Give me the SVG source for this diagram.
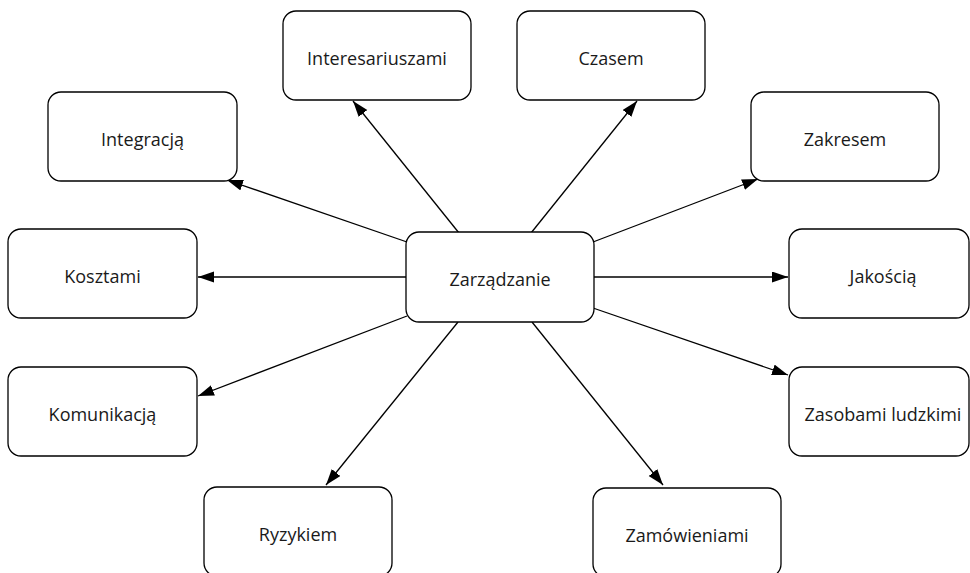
<svg xmlns="http://www.w3.org/2000/svg" width="970" height="573" viewBox="0 0 970 573">
  <style>
    .box { fill: #ffffff; stroke: #000000; stroke-width: 1.3; }
    .label { font-family: "Open Sans", "Noto Sans", "Liberation Sans", sans-serif; font-size: 18px; fill: #1a1a1a; text-anchor: middle; }
    .link { stroke: #000000; stroke-width: 1.3; fill: none; marker-end: url(#head); }
  </style>
  <defs>
    <marker id="head" markerUnits="userSpaceOnUse" markerWidth="17" markerHeight="12" refX="16" refY="5.5" orient="auto">
      <path d="M0,0 L16,5.5 L0,11 z" fill="#000000"/>
    </marker>
  </defs>
  <rect width="970" height="573" fill="#ffffff"/>

  <!-- connectors radiating from the central node -->
  <g id="connectors">
    <line class="link" x1="459" y1="233" x2="353" y2="101"/>
    <line class="link" x1="531" y1="233" x2="637" y2="101"/>
    <line class="link" x1="407" y1="242" x2="227" y2="180"/>
    <line class="link" x1="593" y1="242" x2="758" y2="179"/>
    <line class="link" x1="407" y1="277" x2="198" y2="277"/>
    <line class="link" x1="593" y1="277" x2="788" y2="277"/>
    <line class="link" x1="407" y1="316" x2="198" y2="396"/>
    <line class="link" x1="593" y1="308" x2="788" y2="375"/>
    <line class="link" x1="458" y1="322" x2="326" y2="485"/>
    <line class="link" x1="532" y1="322" x2="663" y2="485"/>
  </g>

  <g id="node-zarzadzanie">
    <rect class="box" x="406" y="232" width="188" height="90" rx="13"/>
    <text class="label" x="500" y="285.5">Zarządzanie</text>
  </g>
  <g id="node-interesariuszami">
    <rect class="box" x="283" y="11" width="188" height="89" rx="13"/>
    <text class="label" x="377" y="64.5">Interesariuszami</text>
  </g>
  <g id="node-czasem">
    <rect class="box" x="517" y="11" width="188" height="89" rx="13"/>
    <text class="label" x="611" y="64.5">Czasem</text>
  </g>
  <g id="node-integracja">
    <rect class="box" x="48" y="92" width="189" height="89" rx="13"/>
    <text class="label" x="142.5" y="145.5">Integracją</text>
  </g>
  <g id="node-zakresem">
    <rect class="box" x="751" y="92" width="188" height="89" rx="13"/>
    <text class="label" x="845" y="145.5">Zakresem</text>
  </g>
  <g id="node-kosztami">
    <rect class="box" x="8" y="229" width="189" height="89" rx="13"/>
    <text class="label" x="102.5" y="282.5">Kosztami</text>
  </g>
  <g id="node-jakoscia">
    <rect class="box" x="789" y="229" width="180" height="89" rx="13"/>
    <text class="label" x="883" y="282.5">Jakością</text>
  </g>
  <g id="node-komunikacja">
    <rect class="box" x="8" y="367" width="189" height="89" rx="13"/>
    <text class="label" x="102.5" y="420.5">Komunikacją</text>
  </g>
  <g id="node-zasobami">
    <rect class="box" x="789" y="367" width="180" height="89" rx="13"/>
    <text class="label" x="883" y="420.5">Zasobami ludzkimi</text>
  </g>
  <g id="node-ryzykiem">
    <rect class="box" x="204" y="487" width="188" height="89" rx="13"/>
    <text class="label" x="298" y="540.5">Ryzykiem</text>
  </g>
  <g id="node-zamowieniami">
    <rect class="box" x="593" y="488" width="188" height="89" rx="13"/>
    <text class="label" x="687" y="541.5">Zamówieniami</text>
  </g>
</svg>
